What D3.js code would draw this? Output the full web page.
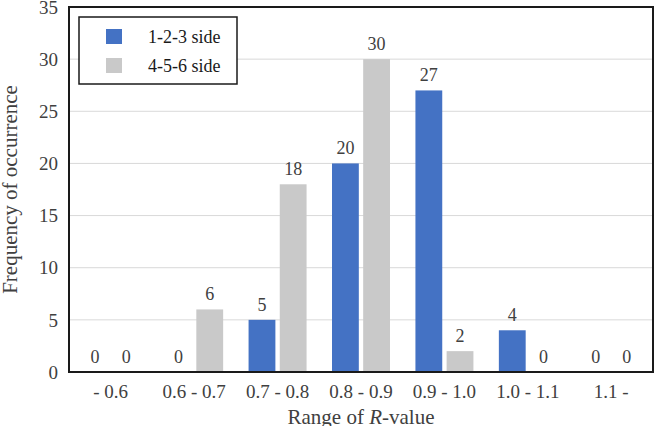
<!DOCTYPE html>
<html>
<head>
<meta charset="utf-8">
<script src="https://cdn.jsdelivr.net/npm/d3@7"></script>
<style>
  body { margin: 0; background: #fff; }
  svg text { fill: #404040; }
</style>
</head>
<body>
<div id="chart"></div>
<script>
var categories = ['- 0.6', '0.6 - 0.7', '0.7 - 0.8', '0.8 - 0.9', '0.9 - 1.0', '1.0 - 1.1', '1.1 -'];
var side123 = [0, 0, 5, 20, 27, 4, 0];
var side456 = [0, 6, 18, 30, 2, 0, 0];
var seriesNames = ['1-2-3 side', '4-5-6 side'];
var seriesColors = ['#4472C4', '#C9C9C9'];
var yTicks = [0, 5, 10, 15, 20, 25, 30, 35];

var width = 659, height = 426;
var margin = { top: 7, right: 6, bottom: 54, left: 69 };
var w = width - margin.left - margin.right;
var h = height - margin.top - margin.bottom;
var serif = "'Liberation Serif', 'Times New Roman', serif";

var svg = d3.select('#chart').append('svg')
  .attr('width', width).attr('height', height)
  .style('font-family', serif);
var g = svg.append('g')
  .attr('transform', 'translate(' + margin.left + ',' + margin.top + ')');

var x = d3.scaleBand().domain(categories).range([0, w]);
var x1 = d3.scaleBand().domain(seriesNames).range([x.bandwidth() / 2 - 29, x.bandwidth() / 2 + 29]).paddingInner(0.14);
var y = d3.scaleLinear().domain([0, 35]).range([h, 0]);

// grid
g.selectAll('line.grid').data(yTicks.slice(1, -1)).enter().append('line')
  .attr('class', 'grid')
  .attr('x1', 0).attr('x2', w)
  .attr('y1', function(d) { return y(d); }).attr('y2', function(d) { return y(d); })
  .attr('stroke', '#D9D9D9').attr('stroke-width', 1);

// y tick labels
g.selectAll('text.ytick').data(yTicks).enter().append('text')
  .attr('class', 'ytick')
  .attr('x', -11).attr('y', function(d) { return y(d); })
  .attr('dy', '0.35em').attr('text-anchor', 'end')
  .style('font-size', '19px')
  .text(function(d) { return d; });

var rows = categories.map(function(c, i) {
  return [{ cat: c, s: seriesNames[0], v: side123[i], col: seriesColors[0] },
          { cat: c, s: seriesNames[1], v: side456[i], col: seriesColors[1] }];
});

var groups = g.selectAll('g.grp').data(rows).enter().append('g')
  .attr('transform', function(d, i) { return 'translate(' + x(categories[i]) + ',0)'; });

groups.selectAll('rect').data(function(d) { return d; }).enter().append('rect')
  .attr('x', function(d) { return x1(d.s); })
  .attr('width', x1.bandwidth())
  .attr('y', function(d) { return y(d.v); })
  .attr('height', function(d) { return h - y(d.v); })
  .attr('fill', function(d) { return d.col; });

groups.selectAll('text.val').data(function(d) { return d; }).enter().append('text')
  .attr('class', 'val')
  .attr('x', function(d) { return x1(d.s) + x1.bandwidth() / 2; })
  .attr('y', function(d) { return y(d.v) - 9; })
  .attr('text-anchor', 'middle')
  .style('font-size', '18px')
  .text(function(d) { return d.v; });

// frame
g.append('rect').attr('x', 0).attr('y', 0).attr('width', w).attr('height', h)
  .attr('fill', 'none').attr('stroke', '#1a1a1a').attr('stroke-width', 2);

// x tick labels
g.selectAll('text.xtick').data(categories).enter().append('text')
  .attr('class', 'xtick')
  .attr('x', function(d) { return x(d) + x.bandwidth() / 2; })
  .attr('y', h + 26)
  .attr('text-anchor', 'middle')
  .style('font-size', '19px')
  .text(function(d) { return d; });

// axis titles
var xt = svg.append('text')
  .attr('x', margin.left + w / 2).attr('y', 424)
  .attr('text-anchor', 'middle').style('font-size', '21px');
xt.append('tspan').text('Range of ');
xt.append('tspan').style('font-style', 'italic').text('R');
xt.append('tspan').text('-value');

svg.append('text')
  .attr('transform', 'translate(17,' + (margin.top + h / 2) + ') rotate(-90)')
  .attr('text-anchor', 'middle').style('font-size', '21px')
  .text('Frequency of occurrence');

// legend
var lg = svg.append('g').attr('transform', 'translate(79,17)');
lg.append('rect').attr('width', 158).attr('height', 67)
  .attr('fill', '#fff').attr('stroke', '#1a1a1a').attr('stroke-width', 1.5);
seriesNames.forEach(function(s, i) {
  lg.append('rect').attr('x', 27).attr('y', 12 + i * 29).attr('width', 16).attr('height', 15)
    .attr('fill', seriesColors[i]);
  lg.append('text').attr('x', 69).attr('y', 26 + i * 29)
    .style('font-size', '18px').style('fill', '#1a1a1a').text(s);
});
</script>
</body>
</html>
